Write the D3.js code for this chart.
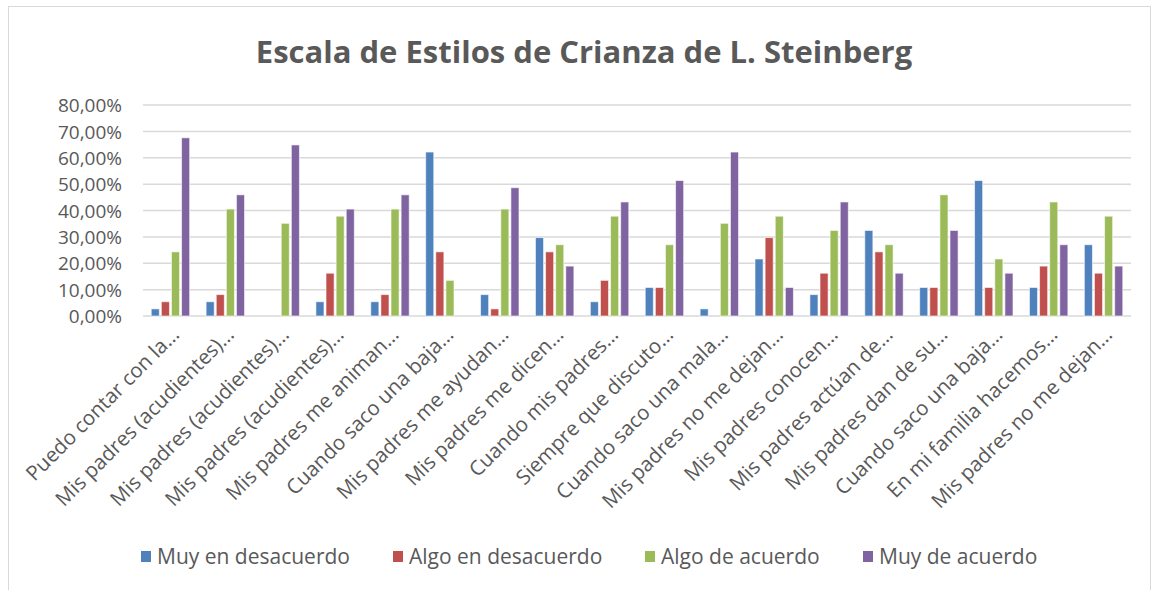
<!DOCTYPE html>
<html lang="es">
<head>
<meta charset="utf-8">
<title>Escala de Estilos de Crianza de L. Steinberg</title>
<script src="https://cdn.jsdelivr.net/npm/d3@7"></script>
<style>
  body { margin: 0; background: #fff; }
  text { font-family: "Open Sans", sans-serif; fill: #595959; }
  .grid line { stroke: #d9d9d9; stroke-width: 1.5; }
</style>
</head>
<body>
<script>
// categorias (etiquetas recortadas como en Excel)
var categories = [
  "Puedo contar con la…",
  "Mis padres (acudientes)…",
  "Mis padres (acudientes)…",
  "Mis padres (acudientes)…",
  "Mis padres me animan…",
  "Cuando saco una baja…",
  "Mis padres me ayudan…",
  "Mis padres me dicen…",
  "Cuando mis padres…",
  "Siempre que discuto…",
  "Cuando saco una mala…",
  "Mis padres no me dejan…",
  "Mis padres conocen…",
  "Mis padres actúan de…",
  "Mis padres dan de su…",
  "Cuando saco una baja…",
  "En mi familia hacemos…",
  "Mis padres no me dejan…"
];

var seriesNames = ["Muy en desacuerdo", "Algo en desacuerdo", "Algo de acuerdo", "Muy de acuerdo"];

// valores en porcentaje
var muyDesacuerdo  = [2.70, 5.41, 0, 5.41, 5.41, 62.16, 8.11, 29.73, 5.41, 10.81, 2.70, 21.62, 8.11, 32.43, 10.81, 51.35, 10.81, 27.03];
var algoDesacuerdo = [5.41, 8.11, 0, 16.22, 8.11, 24.32, 2.70, 24.32, 13.51, 10.81, 0, 29.73, 16.22, 24.32, 10.81, 10.81, 18.92, 16.22];
var algoAcuerdo    = [24.32, 40.54, 35.14, 37.84, 40.54, 13.51, 40.54, 27.03, 37.84, 27.03, 35.14, 37.84, 32.43, 27.03, 45.95, 21.62, 43.24, 37.84];
var muyAcuerdo     = [67.57, 45.95, 64.86, 40.54, 45.95, 0, 48.65, 18.92, 43.24, 51.35, 62.16, 10.81, 43.24, 16.22, 32.43, 16.22, 27.03, 18.92];

var yTicks = [0, 10, 20, 30, 40, 50, 60, 70, 80];
var colors = ["#4F81BD", "#C0504D", "#9BBB59", "#8064A2"];

var allSeries = [muyDesacuerdo, algoDesacuerdo, algoAcuerdo, muyAcuerdo];

var w = 1155, h = 590;
var plotLeft = 143, plotRight = 1131, plotTop = 105, plotBottom = 316;

var svg = d3.select("body").append("svg")
  .attr("width", w)
  .attr("height", h);

// chart border
svg.append("rect")
  .attr("x", 8.5).attr("y", 6.5)
  .attr("width", 1142).attr("height", 590)
  .attr("fill", "none")
  .attr("stroke", "#d9d9d9");

// title
svg.append("text")
  .attr("x", 584)
  .attr("y", 63)
  .attr("text-anchor", "middle")
  .style("font-size", "31px")
  .style("font-weight", "bold")
  .text("Escala de Estilos de Crianza de L. Steinberg");

var xScale = d3.scaleBand()
  .domain(d3.range(categories.length))
  .range([plotLeft, plotRight])
  .paddingInner(0.3)
  .paddingOuter(0.15);

var xSub = d3.scaleBand()
  .domain(d3.range(seriesNames.length))
  .range([0, xScale.bandwidth()])
  .paddingInner(0.2);

var yScale = d3.scaleLinear()
  .domain([0, 80])
  .range([plotBottom, plotTop]);

// gridlines
svg.append("g")
  .attr("class", "grid")
  .selectAll("line")
  .data(yTicks)
  .enter()
  .append("line")
  .attr("x1", plotLeft)
  .attr("x2", plotRight)
  .attr("y1", function (d) { return yScale(d); })
  .attr("y2", function (d) { return yScale(d); });

// y axis labels
var yAxis = d3.axisLeft(yScale)
  .tickValues(yTicks)
  .tickSize(0)
  .tickPadding(0)
  .tickFormat(function (d) { return d3.format(".2f")(d).replace(".", ",") + "%"; });

var yG = svg.append("g")
  .attr("transform", "translate(122,0)")
  .call(yAxis);
yG.select(".domain").remove();
yG.selectAll("text")
  .style("font-size", "19px")
  .style("font-family", "'Open Sans', sans-serif")
  .attr("fill", "#595959")
  .attr("dy", "0.35em");

// bars
var groups = svg.append("g")
  .selectAll("g")
  .data(categories)
  .enter()
  .append("g")
  .attr("transform", function (d, i) { return "translate(" + xScale(i) + ",0)"; });

groups.selectAll("rect")
  .data(function (d, i) {
    return allSeries.map(function (s, k) { return { k: k, v: s[i] }; });
  })
  .enter()
  .append("rect")
  .filter(function (d) { return d.v > 0; })
  .attr("x", function (d) { return xSub(d.k); })
  .attr("y", function (d) { return yScale(d.v); })
  .attr("width", xSub.bandwidth())
  .attr("height", function (d) { return plotBottom - yScale(d.v); })
  .attr("fill", function (d) { return colors[d.k]; })
  .attr("stroke", "#ffffff")
  .attr("stroke-opacity", 0.6)
  .attr("stroke-width", 1);

// x labels
svg.append("g")
  .selectAll("text")
  .data(categories)
  .enter()
  .append("text")
  .attr("text-anchor", "end")
  .attr("transform", function (d, i) {
    var cx = xScale(i) + xScale.bandwidth() / 2 + 10;
    return "translate(" + cx + ",336) rotate(-45)";
  })
  .style("font-size", "20.5px")
  .text(function (d) { return d; });

// legend
var legendX = [141, 393, 645, 863];
var legend = svg.append("g")
  .selectAll("g")
  .data(seriesNames)
  .enter()
  .append("g")
  .attr("transform", function (d, i) { return "translate(" + legendX[i] + ",557)"; });

legend.append("rect")
  .attr("x", 0).attr("y", -6)
  .attr("width", 10).attr("height", 11)
  .attr("fill", function (d, i) { return colors[i]; });

legend.append("text")
  .attr("x", 16)
  .attr("dy", "0.35em")
  .style("font-size", "21px")
  .text(function (d) { return d; });
</script>
</body>
</html>
